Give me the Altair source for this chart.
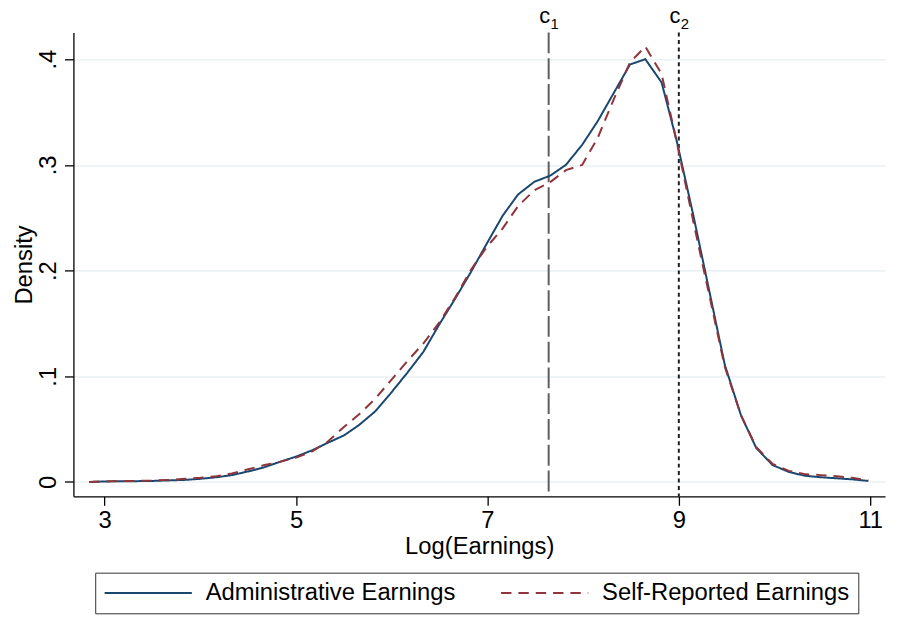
import altair as alt
import pandas as pd

# ---- data ----
x_grid = [2.84, 3.01, 3.17, 3.34, 3.50, 3.67, 3.84, 4.00, 4.17, 4.33,
          4.50, 4.67, 4.83, 5.00, 5.17, 5.33, 5.50, 5.66, 5.83, 5.99,
          6.16, 6.33, 6.49, 6.66, 6.83, 6.99, 7.16, 7.32, 7.49, 7.66,
          7.82, 7.99, 8.15, 8.32, 8.49, 8.65, 8.82, 8.98, 9.15, 9.32,
          9.48, 9.65, 9.81, 9.98, 10.15, 10.31, 10.48, 10.65, 10.81, 10.98]

admin = [0.000, 0.0005, 0.0007, 0.0008, 0.001, 0.0015, 0.002, 0.003, 0.0045, 0.0065,
         0.010, 0.014, 0.019, 0.024, 0.030, 0.037, 0.044, 0.054, 0.067, 0.084,
         0.103, 0.123, 0.148, 0.173, 0.199, 0.225, 0.252, 0.272, 0.284, 0.290,
         0.300, 0.319, 0.341, 0.368, 0.395, 0.400, 0.378, 0.322, 0.253, 0.180,
         0.111, 0.063, 0.032, 0.016, 0.0095, 0.006, 0.0045, 0.0035, 0.0025, 0.001]

selfrep = [0.000, 0.0006, 0.0008, 0.001, 0.0013, 0.002, 0.003, 0.004, 0.0055, 0.008,
           0.012, 0.016, 0.019, 0.023, 0.029, 0.038, 0.052, 0.064, 0.079, 0.096,
           0.114, 0.131, 0.150, 0.174, 0.201, 0.222, 0.240, 0.261, 0.276, 0.284,
           0.295, 0.300, 0.325, 0.362, 0.397, 0.412, 0.386, 0.321, 0.247, 0.176,
           0.109, 0.063, 0.033, 0.017, 0.0105, 0.0075, 0.0065, 0.0055, 0.004, 0.0015]

series_names = ["Administrative Earnings", "Self-Reported Earnings"]
series_colors = ["#1a476f", "#90353b"]
series_dashes = [[1, 0], [10.5, 7]]

cut_values = [7.64, 9.0]
cut_subs = ["1", "2"]
cut_kind = ["c1", "c2"]

x_ticks = [3, 5, 7, 9, 11]
y_ticks = [0, 0.1, 0.2, 0.3, 0.4]

FONT = "Liberation Sans"
FS = 24

df = pd.DataFrame({
    "x": x_grid * 2,
    "density": admin + selfrep,
    "series": [series_names[0]] * len(x_grid) + [series_names[1]] * len(x_grid),
})
cuts = pd.DataFrame({"cut": cut_values, "sub": cut_subs, "kind": cut_kind})

xscale = alt.Scale(domain=[2.674, 11.155], nice=False, zero=False)
yscale = alt.Scale(domain=[-0.0136, 0.4252], nice=False, zero=False)

xaxis = alt.Axis(values=x_ticks, format="d", title="Log(Earnings)", grid=False,
                 tickSize=9, labelPadding=3, titlePadding=3,
                 domainColor="black", tickColor="black", domainWidth=1.3, tickWidth=1.3)
yaxis = alt.Axis(values=y_ticks, title="Density", grid=True, gridColor="#eaf2f3", gridWidth=1.6,
                 tickSize=9, labelAngle=270, labelAlign="center", labelBaseline="bottom",
                 labelPadding=4, titlePadding=0,
                 labelExpr="datum.value == 0 ? '0' : replace(format(datum.value, '.1f'), '0.', '.')",
                 domainColor="black", tickColor="black", domainWidth=1.3, tickWidth=1.3)

base_cuts = alt.Chart(cuts)

rule1 = base_cuts.transform_filter(alt.datum.kind == "c1").mark_rule(
    color="#5e5e5e", strokeWidth=2, strokeDash=[21, 5]
).encode(x=alt.X("cut:Q", scale=xscale, axis=xaxis))

rule2 = base_cuts.transform_filter(alt.datum.kind == "c2").mark_rule(
    color="#1e1e1e", strokeWidth=2, strokeDash=[4, 3.5]
).encode(x=alt.X("cut:Q", scale=xscale, axis=xaxis))

lines = alt.Chart(df).mark_line(strokeWidth=2).encode(
    x=alt.X("x:Q", scale=xscale, axis=xaxis),
    y=alt.Y("density:Q", scale=yscale, axis=yaxis),
    color=alt.Color("series:N", title=None,
                    scale=alt.Scale(domain=series_names, range=series_colors),
                    legend=alt.Legend(
                        orient="none", legendX=22, legendY=545, direction="horizontal",
                        symbolType="stroke", symbolSize=7744, symbolStrokeWidth=2,
                        clipHeight=24, padding=8.5, labelOffset=13, columnPadding=44,
                        labelFontSize=FS, labelFont=FONT, labelColor="black", labelLimit=500,
                        strokeColor="#333333", fillColor="white")),
    strokeDash=alt.StrokeDash("series:N", title=None,
                              scale=alt.Scale(domain=series_names, range=series_dashes)),
)

c_text = base_cuts.mark_text(text="c", fontSize=22, font=FONT, color="black",
                             align="center", baseline="alphabetic", dx=-4).encode(
    x=alt.X("cut:Q", scale=xscale), y=alt.value(-10))
sub_text = base_cuts.mark_text(fontSize=15, font=FONT, color="black",
                               align="center", baseline="alphabetic", dx=6).encode(
    x=alt.X("cut:Q", scale=xscale), y=alt.value(-4), text="sub:N")

chart = alt.layer(rule1, rule2, lines, c_text, sub_text).properties(
    width=819, height=468,
    autosize=alt.AutoSizeParams(type="none"),
    padding={"left": 66, "top": 22, "right": 6, "bottom": 125},
).configure(font=FONT).configure_axis(
    labelFont=FONT, titleFont=FONT, labelFontSize=FS, titleFontSize=FS,
    labelColor="black", titleColor="black", titleFontWeight="normal",
).configure_view(stroke=None)

chart.save("out.html", embed_options={"renderer": "svg", "actions": False})
